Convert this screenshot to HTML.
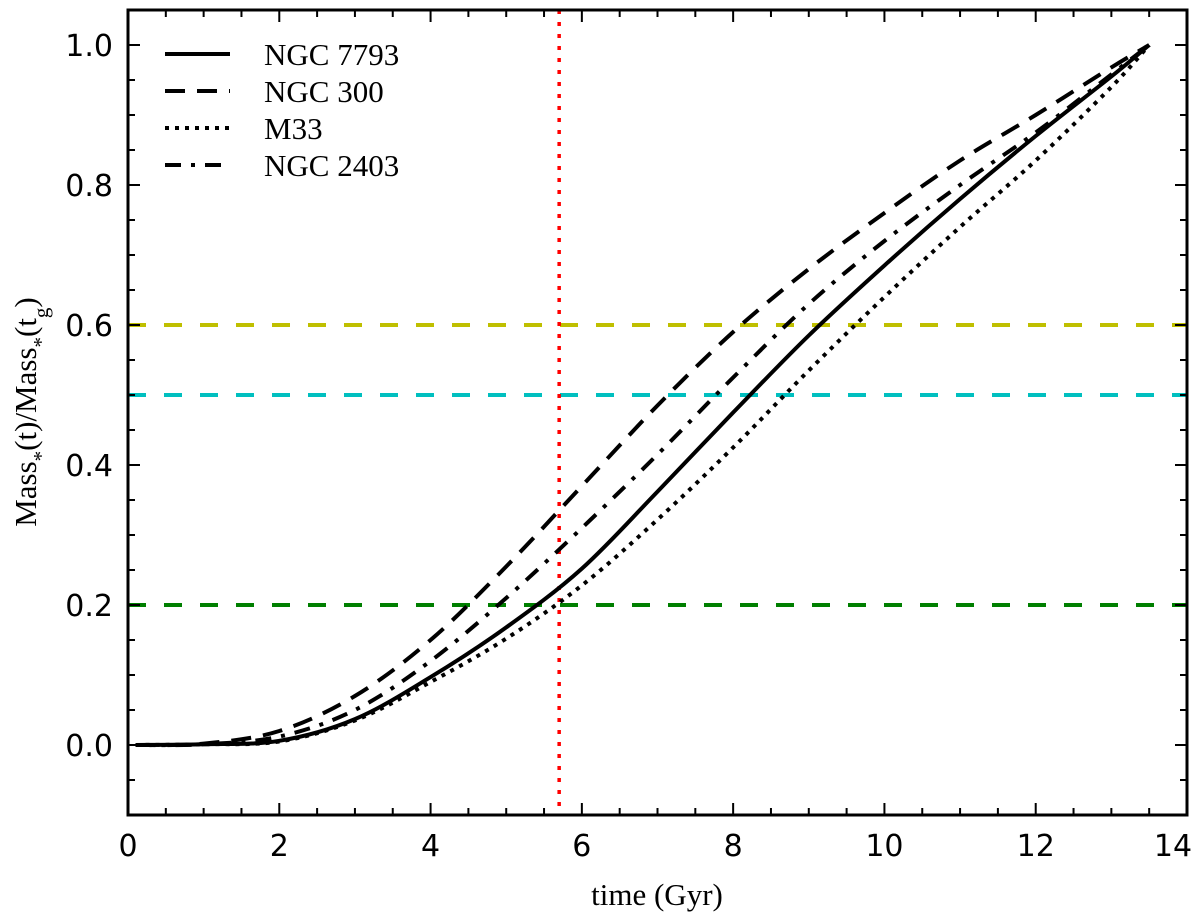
<!DOCTYPE html>
<html><head><meta charset="utf-8"><style>
body{margin:0;background:#fff}
svg text{font-family:"DejaVu Sans",sans-serif}
.serif{font-family:"Liberation Serif","DejaVu Serif",serif}
</style></head><body>
<svg id="chart" width="1200" height="918" xmlns="http://www.w3.org/2000/svg"></svg>
<script>
const times=[0.1,1,2,3,4,5,6,7,8,9,10,11,12,13,13.5];
const ngc7793=[0,0.001,0.006,0.037,0.097,0.168,0.252,0.362,0.475,0.585,0.685,0.78,0.87,0.955,1.0];
const ngc300=[0,0.002,0.02,0.07,0.15,0.255,0.37,0.485,0.59,0.68,0.76,0.835,0.9,0.968,1.0];
const m33=[0,0.001,0.005,0.035,0.09,0.152,0.228,0.322,0.425,0.535,0.64,0.74,0.835,0.94,1.0];
const ngc2403=[0,0.001,0.012,0.05,0.12,0.21,0.31,0.415,0.525,0.63,0.72,0.8,0.875,0.958,1.0];
const hlines=[0.6,0.5,0.2];
const hcolors=["#bfbf00","#00bfbf","#007f00"];
const vline=5.7;
const xTicks=[0,2,4,6,8,10,12,14];
const yTicks=[0.0,0.2,0.4,0.6,0.8,1.0];
const L=128,R=1187,T=10,B=815;
const xs=v=>L+(v-0)/14*(R-L);
const ys=v=>745-v*700;
const svg=document.getElementById('chart');
const NS="http://www.w3.org/2000/svg";
function mk(tag,attrs,parent){const e=document.createElementNS(NS,tag);for(const k in attrs)e.setAttribute(k,attrs[k]);(parent||svg).appendChild(e);return e;}
function pathFor(vals){
  const p=times.map((t,i)=>[xs(t),ys(vals[i])]);
  let d=`M${p[0][0]},${p[0][1]}`;
  for(let i=0;i<p.length-1;i++){
    const p0=p[Math.max(0,i-1)],p1=p[i],p2=p[i+1],p3=p[Math.min(p.length-1,i+2)];
    d+=` C${p1[0]+(p2[0]-p0[0])/6},${p1[1]+(p2[1]-p0[1])/6} ${p2[0]-(p3[0]-p1[0])/6},${p2[1]-(p3[1]-p1[1])/6} ${p2[0]},${p2[1]}`;
  }
  return d;
}
hlines.forEach((v,i)=>{
  const l=mk('line',{x1:L,x2:R,y1:ys(v),y2:ys(v),stroke:hcolors[i],'stroke-width':4,'stroke-dasharray':'18,18'});
  
  
});
const vl=mk('line',{x1:xs(vline),x2:xs(vline),y1:T,y2:B,stroke:'#f00','stroke-width':3.5,'stroke-dasharray':'4,8'});


const series=[
 ['ngc7793-line',ngc7793,'none'],
 ['ngc300-line',ngc300,'20,12'],
 ['m33-line',m33,'4,6'],
 ['ngc2403-line',ngc2403,'16,10,4,10']
];
series.forEach(s=>{
  const p=mk('path',{d:pathFor(s[1]),fill:'none',stroke:'#000','stroke-width':4,'stroke-dasharray':s[2]});
  
  
});
const fr=mk('rect',{x:L,y:T,width:R-L,height:B-T,fill:'none',stroke:'#000','stroke-width':3});


for(let v=0;v<=14.001;v+=0.5){
  const major=Math.abs(v/2-Math.round(v/2))<1e-6, len=major?12:7;
  mk('line',{x1:xs(v),x2:xs(v),y1:B,y2:B-len,stroke:'#000','stroke-width':2});
  mk('line',{x1:xs(v),x2:xs(v),y1:T,y2:T+len,stroke:'#000','stroke-width':2});
}
xTicks.forEach(v=>{
  const t=mk('text',{x:xs(v)-(v===14?14:0),y:856,'font-size':30,'text-anchor':'middle'});t.textContent=v;
  
  
});
for(let k=-2;k<=21;k++){
  const v=k*0.05, major=k%4===0, len=major?12:7;
  if(ys(v)<T||ys(v)>B)continue;
  mk('line',{x1:L,x2:L+len,y1:ys(v),y2:ys(v),stroke:'#000','stroke-width':2});
  mk('line',{x1:R,x2:R-len,y1:ys(v),y2:ys(v),stroke:'#000','stroke-width':2});
}
yTicks.forEach(v=>{
  const t=mk('text',{x:113,y:ys(v)+11,'font-size':30,'text-anchor':'end'});t.textContent=v.toFixed(1);
  
  
});
const xt=mk('text',{x:657,y:905,'font-size':31,'text-anchor':'middle',class:'serif'});xt.textContent='time (Gyr)';


const yt=mk('text',{x:0,y:0,'font-size':31,'text-anchor':'middle',class:'serif',transform:'translate(36,412) rotate(-90)'});
yt.innerHTML='Mass<tspan baseline-shift="sub" font-size="21">*</tspan>(t)/Mass<tspan baseline-shift="sub" font-size="21">*</tspan>(t<tspan baseline-shift="sub" font-size="21">g</tspan>)';


const legNames=['NGC 7793','NGC 300','M33','NGC 2403'];
const legY=[54,91,128,165];
series.forEach((s,i)=>{
  const g=mk('g',{});
  
  
  mk('line',{x1:165,x2:230,y1:legY[i],y2:legY[i],stroke:'#000','stroke-width':4,'stroke-dasharray':s[2]},g);
  const t=mk('text',{x:264,y:legY[i]+11,'font-size':31,class:'serif'},g);t.textContent=legNames[i];
});
</script>
</body></html>
